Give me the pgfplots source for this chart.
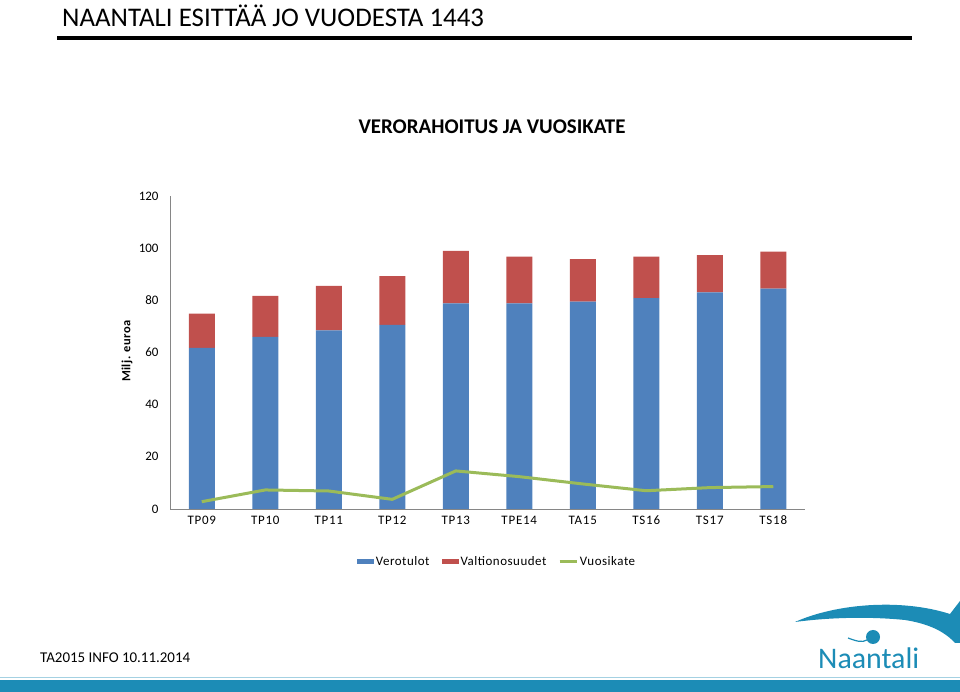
\documentclass[border=0pt]{standalone}
\usepackage{pgfplots}
\pgfplotsset{compat=1.18}
\usepackage{fontspec}
\setmainfont{Carlito}
\definecolor{cblue}{HTML}{4F81BD}
\definecolor{cred}{HTML}{C0504D}
\definecolor{cgreen}{HTML}{9BBB59}
\definecolor{teal1}{HTML}{1C8CB6}
\definecolor{axgray}{HTML}{868686}
\pgfplotstableread{
x name  vero  valt  vk
0 TP09  61.8  13.1  2.8
1 TP10  66.0  15.7  7.3
2 TP11  68.5  17.0  6.9
3 TP12  70.6  18.7  3.7
4 TP13  78.8  20.2  14.6
5 TPE14 78.8  18.0  12.4
6 TA15  79.5  16.3  9.6
7 TS16  80.8  16.0  7.0
8 TS17  83.0  14.3  8.2
9 TS18  84.5  14.2  8.6
}\data
\begin{document}
\begin{tikzpicture}[x=1bp,y=1bp]
\path[use as bounding box] (0,0) rectangle (960,692);
% header
\node[anchor=base west,font=\fontsize{27}{29}\selectfont,inner sep=0] at (62,665) {NAANTALI ESITTÄÄ JO VUODESTA 1443};
\fill[black] (57,652) rectangle (912,656);
% footer
\fill[teal1] (0,0) rectangle (960,12);
\draw[teal1!40, line width=1bp] (0,14) -- (960,14);
\node[anchor=base west,font=\fontsize{15}{17}\selectfont,inner sep=0] at (40,29) {TA2015 INFO 10.11.2014};
% logo
\fill[teal1] (795,70) .. controls (835,88) and (900,94) .. (950,78) -- (960,91) -- (960,49) -- (955,49) .. controls (945,60) and (930,68) .. (905,72) .. controls (865,76) and (825,74) .. (795,70) -- cycle;
\fill[teal1] (873,55) circle (7);
\draw[teal1,line width=1.2pt] (848,54) .. controls (856,51) and (862,49) .. (867,52);
\node[anchor=base west,text=teal1,font=\fontsize{30}{32}\selectfont,inner sep=0] at (818,23) {Naantali};
% chart title
\node[font=\bfseries\fontsize{21}{23}\selectfont] at (492,565) {VERORAHOITUS JA VUOSIKATE};
\node[rotate=90,font=\bfseries\fontsize{12.5}{14}\selectfont\addfontfeature{LetterSpace=4}] at (127,341) {Milj. euroa};
\begin{axis}[
  at={(170bp,183bp)}, anchor=south west,
  scale only axis, width=635bp, height=313bp,
  xmin=-0.5, xmax=9.5, ymin=0, ymax=120,
  axis x line*=bottom, axis y line*=left,
  axis line style={axgray, line width=0.8pt},
  ytick={0,20,...,120},
  xtick=data,
  xticklabels from table={\data}{name},
  major tick length=0pt,
  tick style={draw=none},
  yticklabel style={font=\fontsize{13}{14}\selectfont, xshift=-8bp},
  xticklabel style={font=\fontsize{13}{14}\selectfont\addfontfeature{LetterSpace=6}, yshift=-3bp, text height=9bp, text depth=0bp},
  /pgf/number format/assume math mode=true,
  ybar stacked, bar width=26bp,
  legend style={draw=none, at={(0.515,-0.168)}, anchor=center, font=\fontsize{13}{15}\selectfont\addfontfeature{LetterSpace=4}, legend columns=3, /tikz/every even column/.append style={column sep=10bp}},
  clip=false,
]
\addplot[fill=cblue, draw=none, legend image code/.code={\fill[cblue] (0cm,-0.1cm) rectangle (0.6cm,0.1cm);}] table[x=x,y=vero]{\data};
\addlegendentry{Verotulot}
\addplot[fill=cred, draw=none, legend image code/.code={\fill[cred] (0cm,-0.1cm) rectangle (0.6cm,0.1cm);}] table[x=x,y=valt]{\data};
\addlegendentry{Valtionosuudet}
\addlegendimage{legend image code/.code={\draw[cgreen, line width=2.5bp] (0cm,0cm) -- (0.6cm,0cm);}}
\addlegendentry{Vuosikate}
\end{axis}
\begin{axis}[
  at={(170bp,183bp)}, anchor=south west,
  scale only axis, width=635bp, height=313bp,
  xmin=-0.5, xmax=9.5, ymin=0, ymax=120,
  axis lines=none,
]
\addplot[cgreen, line width=3bp, line join=round, mark=none] table[x=x,y=vk]{\data};
\end{axis}
\end{tikzpicture}
\end{document}
